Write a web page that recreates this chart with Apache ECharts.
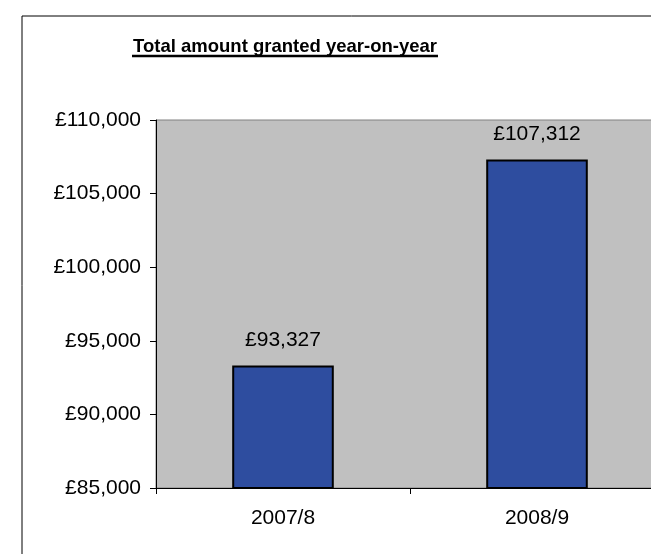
<!DOCTYPE html>
<html>
<head>
<meta charset="utf-8">
<script src="https://cdn.jsdelivr.net/npm/echarts@6/dist/echarts.min.js"></script>
<style>html,body{margin:0;padding:0;background:#fff;overflow:hidden}#c{width:680px;height:554px}</style>
</head>
<body>
<div id="c"></div>
<script>
const categories = ['2007/8', '2008/9'];
const amounts = [93327, 107312];
const titleText = 'Total amount granted year-on-year';

function money(v) {
  return '£' + String(v).replace(/\B(?=(\d{3})+(?!\d))/g, ',');
}

const chart = echarts.init(document.getElementById('c'));
chart.setOption({
  animation: false,
  backgroundColor: '#ffffff',
  title: {
    text: titleText,
    left: 280,
    top: 32,
    textAlign: 'center',
    textStyle: { fontFamily: 'Liberation Sans, Arial', fontSize: 18.5, fontWeight: 'bold', color: '#000' }
  },
  graphic: [
    { type: 'rect', shape: { x: 22, y: 16, width: 700, height: 600 }, style: { fill: 'none', stroke: '#000', lineWidth: 1 }, silent: true, z: 0 },
    { type: 'line', shape: { x1: 132, y1: 56, x2: 438, y2: 56 }, style: { stroke: '#000', lineWidth: 2.5 }, silent: true }
  ],
  grid: {
    left: 156, right: 16, top: 120, bottom: 66,
    show: true, backgroundColor: '#c0c0c0', borderColor: '#808080', borderWidth: 1
  },
  xAxis: {
    type: 'category',
    data: categories,
    axisLine: { lineStyle: { color: '#000', width: 1 } },
    axisTick: { show: true, length: 6, inside: false, lineStyle: { color: '#000' } },
    axisLabel: { fontFamily: 'Liberation Sans, Arial', fontSize: 21, color: '#000', margin: 20 },
    splitLine: { show: false }
  },
  yAxis: {
    type: 'value',
    min: 85000, max: 110000, interval: 5000,
    axisLine: { show: true, lineStyle: { color: '#000', width: 1 } },
    axisTick: { show: true, length: 6, lineStyle: { color: '#000' } },
    axisLabel: { fontFamily: 'Liberation Sans, Arial', fontSize: 21, color: '#000', margin: 15, formatter: money },
    splitLine: { show: false }
  },
  series: [{
    type: 'bar',
    data: amounts,
    barWidth: '40%',
    itemStyle: { color: '#2e4d9f', borderColor: '#000', borderWidth: 2 },
    label: {
      show: true, position: 'top', distance: 15,
      fontFamily: 'Liberation Sans, Arial', fontSize: 21, color: '#000',
      formatter: p => money(p.value)
    }
  }]
});
</script>
</body>
</html>
